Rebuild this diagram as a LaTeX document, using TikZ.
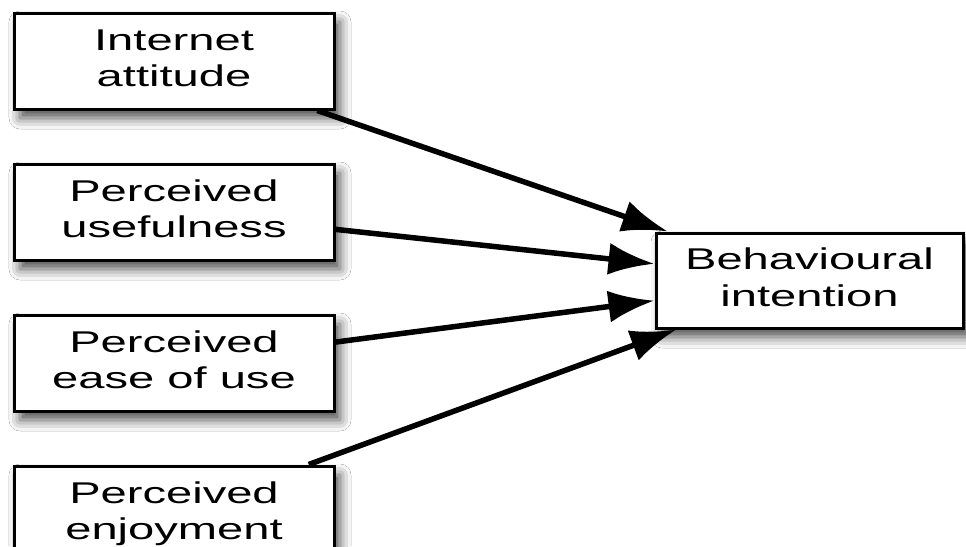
\documentclass[tikz,border=0pt]{standalone}
\usepackage{fontspec}
\setmainfont{Liberation Sans}
\usepackage{graphicx}
\usetikzlibrary{arrows.meta, positioning, shadows.blur}
\newcommand{\wtext}[2]{\scalebox{1.57}[1]{\begin{tabular}{@{}c@{}}#1\\#2\end{tabular}}}

\begin{document}
\begin{tikzpicture}[x=1pt, y=1pt, node distance=52pt, >={Latex[length=46pt, width=32pt]},
  font=\fontsize{30}{36.5}\selectfont,
  box/.style={draw, line width=3pt, fill=white, minimum width=320pt, minimum height=96pt, inner sep=0pt,
    blur shadow={shadow xshift=6pt, shadow yshift=-9pt, shadow blur radius=11pt, shadow opacity=70}}]
\clip (0,0) rectangle (966,-546);
\fill[white] (0,0) rectangle (966,-546);
\node[box] (ia) at (174,-61) {\wtext{Internet}{attitude}};
\node[box, below=of ia] (pu) {\wtext{Perceived}{usefulness}};
\node[box, below=of pu] (pe) {\wtext{Perceived}{ease of use}};
\node[box, below=of pe] (pj) {\wtext{Perceived}{enjoyment}};
\node[box, minimum width=307pt, minimum height=95pt] (bi) at (809.5,-280.5) {\wtext{Behavioural}{intention}};
\draw[->, line width=5.5pt] (ia) -- (bi);
\draw[->, line width=5.5pt] (pu) -- (bi);
\draw[->, line width=5.5pt] (pe) -- (bi);
\draw[->, line width=5.5pt] (pj) -- (bi);
\end{tikzpicture}
\end{document}
